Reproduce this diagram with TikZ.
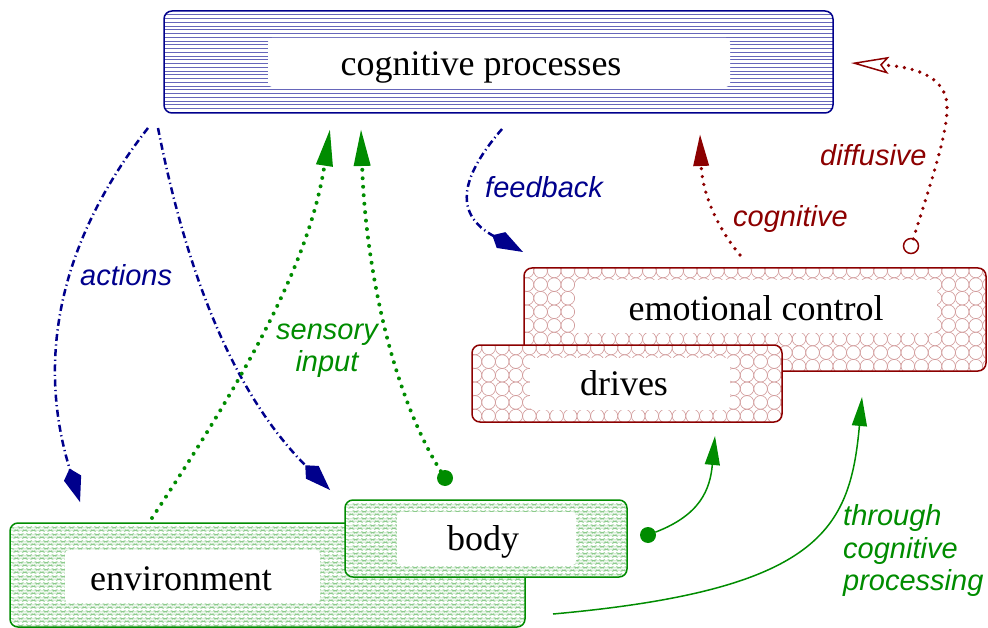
\documentclass[tikz,border=0pt]{standalone}
\usepackage{fontspec}
\setmainfont{Liberation Serif}
\setsansfont{Liberation Sans}
\usetikzlibrary{arrows.meta,decorations.pathmorphing}
\definecolor{navyc}{RGB}{0,0,140}
\definecolor{redc}{RGB}{140,0,0}
\definecolor{greenc}{RGB}{0,140,0}
\newcommand\hlinepat{\foreach \i in {1,...,30}{\draw[navyc!60,line width=0.7pt] ([yshift=-\i*3.75pt]path picture bounding box.north west) -- ++(700pt,0pt);}}
\newcommand\circpat{\foreach \i in {0,...,35}{\foreach \j in {0,...,8}{\draw[redc!40,line width=0.6pt] ([shift={(\i*13.6pt+3pt,-\j*13.6pt-3pt)}]path picture bounding box.north west) circle (6.8pt);}}}
\newcommand\zigpat{\foreach \j in {1,...,16}{\draw[greenc!45,line width=0.4pt,decorate,decoration={zigzag,segment length=8.5pt,amplitude=1.1pt}] ([yshift=-\j*7pt+1pt]path picture bounding box.north west) -- ++(540pt,0pt);}}
\begin{document}
\begin{tikzpicture}[x=1pt,y=-1pt,
  box/.style={rounded corners=8pt,line width=1.5pt,inner sep=0pt,outer sep=0pt,fill=white},
  cogbox/.style={box,draw=navyc,path picture={\hlinepat}},
  emobox/.style={box,draw=redc,path picture={\circpat}},
  envbox/.style={box,draw=greenc,path picture={\zigpat}},
  whitebox/.style={fill=white,rounded corners=4pt,inner sep=0pt,outer sep=0pt},
  boxtext/.style={font=\fontsize{36}{40}\selectfont,anchor=base,inner sep=0pt},
  lab/.style={font=\sffamily\itshape\fontsize{29}{33}\selectfont,anchor=base west,inner sep=0pt},
  dashdotline/.style={navyc,line width=2.5pt,dash pattern=on 7pt off 3.5pt on 1.2pt off 3.5pt},
  dotgreen/.style={greenc,line width=4pt,line cap=round,dash pattern=on 0pt off 8.5pt},
  dotred/.style={redc,line width=3.6pt,line cap=round,dash pattern=on 0pt off 8pt},
  solidgreen/.style={greenc,line width=1.5pt},
  kitetip/.style={-{Kite[length=35pt,width=18pt,inset=10pt]}},
  tritip/.style={-{Triangle[length=37pt,width=16pt]}},
  smalltri/.style={-{Triangle[length=29pt,width=15pt]}},
  dotnode/.style={circle,fill=greenc,minimum size=16pt,inner sep=0pt,outer sep=0pt},
]
\useasboundingbox (0,0) rectangle (988,628);

% cognitive processes
\node[cogbox,minimum width=669pt,minimum height=102pt] (cog) at (498.5,62) {};
\node[whitebox,minimum width=462pt,minimum height=49pt] (cogw) at (499,62.5) {};
\node[boxtext] (cogt) at (481,76) {cognitive processes};

% emotional control and drives
\node[emobox,minimum width=462pt,minimum height=103pt] (emo) at (755,319.5) {};
\node[whitebox,minimum width=362pt,minimum height=53pt] (emow) at (756,306.5) {};
\node[boxtext] (emot) at (756,321) {emotional control};
\node[emobox,minimum width=310pt,minimum height=77pt] (drv) at (627,383.5) {};
\node[whitebox,minimum width=200pt,minimum height=52pt] (drvw) at (630,384) {};
\node[boxtext] (drvt) at (624,395) {drives};

% environment and body
\node[envbox,minimum width=515pt,minimum height=104pt] (env) at (267.5,575) {};
\node[whitebox,minimum width=255pt,minimum height=53pt] (envw) at (192.5,576.5) {};
\node[boxtext] (envt) at (181,590) {environment};
\node[envbox,minimum width=282pt,minimum height=77pt] (bod) at (486,538.5) {};
\node[whitebox,minimum width=179pt,minimum height=53pt] (bodw) at (486.5,538.5) {};
\node[boxtext] (bodt) at (483,550) {body};

% connector end points
\coordinate (a1s) at (148,128);
\coordinate (a1e) at (80,502);
\coordinate (a2s) at (158,128);
\coordinate (a2e) at (330,490);
\coordinate (fbs) at (502,129);
\coordinate (fbe) at (523,252);
\coordinate (sis) at (152,518);
\coordinate (sie) at (330,129);
\coordinate (bie) at (361,129);
\coordinate (bde) at (715,436);
\coordinate (tcs) at (553,614);
\coordinate (tce) at (862,397);
\coordinate (cgs) at (740,255);
\coordinate (cge) at (700,134);
\coordinate (dfe) at (851,63);
\node[dotnode] (d1) at (445,478) {};
\node[dotnode] (d2) at (648,535) {};
\node[circle,draw=redc,line width=1.5pt,fill=white,minimum size=15pt,inner sep=0pt,outer sep=0pt] (oc) at (911,246) {};

% actions
\draw[dashdotline,kitetip] (a1s) .. controls (45,260) and (42,380) .. (a1e);
\draw[dashdotline,kitetip] (a2s) .. controls (190,290) and (240,400) .. (a2e);
\draw[dashdotline,kitetip] (fbs) .. controls (458,180) and (455,215) .. (fbe);
% sensory input
\draw[dotgreen,tritip] (sis) .. controls (250,370) and (310,260) .. (sie);
\draw[dotgreen,tritip] (d1) .. controls (390,390) and (365,260) .. (bie);
% body to drives
\draw[solidgreen,smalltri] (d2) .. controls (700,515) and (710,490) .. (bde);
% through cognitive processing
\draw[solidgreen,smalltri] (tcs) .. controls (820,590) and (850,530) .. (tce);
% cognitive
\draw[dotred,-{Triangle[length=32pt,width=15pt]}] (cgs) .. controls (715,225) and (702,190) .. (cge);
% diffusive
\draw[dotred,-{Stealth[open,length=38pt,width=17pt,inset=7pt,line width=1.5pt]}] (oc) .. controls (935,170) and (948,130) .. (947,105) .. controls (945,70) and (900,66) .. (dfe);

% labels
\node[lab,navyc] (lact) at (80,286) {actions};
\node[lab,navyc] (lfb) at (485,198) {feedback};
\node[lab,greenc,anchor=base] (lsen) at (327,340) {sensory};
\node[lab,greenc,anchor=base] (linp) at (327,371) {input};
\node[lab,redc] (lcog) at (733,227) {cognitive};
\node[lab,redc] (ldif) at (820,166) {diffusive};
\node[lab,greenc] (lthr) at (843,525) {through};
\node[lab,greenc] (lcgp) at (843,558) {cognitive};
\node[lab,greenc] (lpro) at (843,590) {processing};
\end{tikzpicture}
\end{document}
